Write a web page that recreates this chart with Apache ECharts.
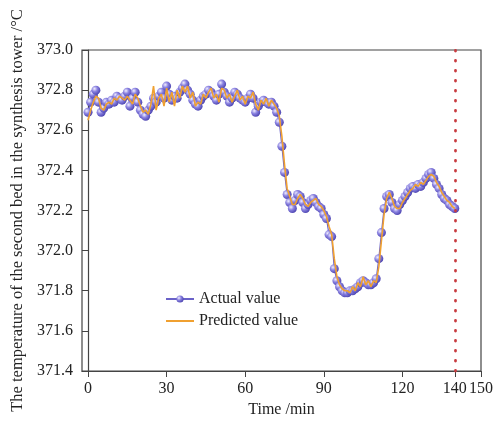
<!DOCTYPE html>
<html><head><meta charset="utf-8">
<script src="https://cdn.jsdelivr.net/npm/echarts@6/dist/echarts.min.js"></script>
<style>html,body{margin:0;padding:0;background:#fff}#c{width:497px;height:423px}</style>
</head><body><div id="c"></div>
<script>
var xTicks = [0, 30, 60, 90, 120, 140, 150];
var actual = [
372.69,372.74,372.78,372.80,372.74,372.69,372.71,372.74,372.73,372.75,
372.74,372.77,372.76,372.75,372.77,372.79,372.72,372.76,372.79,372.74,
372.70,372.68,372.67,372.70,372.72,372.76,372.74,372.77,372.79,372.76,
372.82,372.78,372.75,372.77,372.76,372.79,372.81,372.83,372.80,372.78,
372.75,372.73,372.72,372.75,372.77,372.78,372.80,372.79,372.77,372.75,
372.78,372.83,372.79,372.77,372.74,372.76,372.79,372.78,372.76,372.75,
372.74,372.76,372.78,372.76,372.69,372.72,372.74,372.75,372.74,372.73,
372.74,372.72,372.69,372.64,372.52,372.39,372.28,372.24,372.21,372.25,
372.28,372.27,372.24,372.21,372.23,372.25,372.26,372.24,372.22,372.21,
372.18,372.16,372.08,372.07,371.91,371.85,371.82,371.80,371.79,371.79,
371.80,371.80,371.81,371.82,371.84,371.85,371.84,371.83,371.83,371.84,
371.86,371.96,372.09,372.21,372.27,372.28,372.24,372.21,372.20,372.23,
372.25,372.27,372.29,372.31,372.32,372.31,372.33,372.32,372.34,372.36,
372.38,372.39,372.36,372.33,372.31,372.28,372.26,372.25,372.23,372.22,
372.21];
var predicted = [
372.65,372.70,372.74,372.77,372.76,372.71,372.70,372.73,372.74,372.73,
372.76,372.75,372.77,372.76,372.75,372.77,372.75,372.73,372.78,372.76,
372.72,372.69,372.70,372.68,372.73,372.82,372.70,372.76,372.78,372.72,
372.81,372.74,372.79,372.72,372.80,372.76,372.82,372.79,372.82,372.76,
372.79,372.72,372.74,372.73,372.78,372.76,372.79,372.81,372.76,372.78,
372.74,372.81,372.80,372.76,372.78,372.74,372.77,372.80,372.75,372.77,
372.73,372.77,372.76,372.79,372.73,372.70,372.75,372.73,372.76,372.72,
372.75,372.73,372.71,372.67,372.57,372.43,372.31,372.27,372.23,372.23,
372.26,372.28,372.26,372.23,372.22,372.24,372.25,372.26,372.23,372.22,
372.20,372.17,372.12,372.08,371.96,371.87,371.83,371.81,371.80,371.80,
371.79,371.82,371.80,371.84,371.82,371.87,371.83,371.85,371.82,371.85,
371.84,371.92,372.05,372.18,372.26,372.29,372.26,372.22,372.21,372.21,
372.24,372.26,372.28,372.30,372.31,372.33,372.32,372.34,372.33,372.35,
372.37,372.38,372.37,372.34,372.32,372.29,372.27,372.25,372.24,372.22,
372.21];
var splitT = 140;

function pairs(arr){ return arr.map(function(v,i){ return [i, v]; }); }

var font = 'Liberation Serif';
var fs = 16;
var chart = echarts.init(document.getElementById('c'), null, {renderer:'canvas'});
chart.setOption({
  animation: false,
  backgroundColor: '#fff',
  textStyle: {fontFamily: font},
  grid: {left: 82, right: 16, top: 50, bottom: 51, show: true, borderColor: '#444', borderWidth: 1.2},
  legend: {
    orient: 'vertical', left: 160, top: 286, itemGap: 6, itemWidth: 28, itemHeight: 9,
    textStyle: {fontFamily: font, fontSize: fs, color: '#222'},
    data: [{name: 'Actual value'}, {name: 'Predicted value', itemStyle: {opacity: 0}}]
  },
  xAxis: {
    type: 'value', min: -2.3, max: 150,
    name: 'Time /min', nameLocation: 'middle', nameGap: 31,
    nameTextStyle: {fontFamily: font, fontSize: fs, color: '#222'},
    axisLine: {show: true, onZero: false, lineStyle: {color: '#444', width: 1.2}},
    axisTick: {show: true, inside: false, length: 6, customValues: xTicks, lineStyle: {color: '#444'}},
    axisLabel: {customValues: xTicks, fontFamily: font, fontSize: fs, color: '#222', margin: 10},
    splitLine: {show: false}
  },
  yAxis: {
    type: 'value', min: 371.4, max: 373.0, interval: 0.2,
    name: 'The temperature of the second bed in the synthesis tower /\u00B0C',
    nameLocation: 'middle', nameGap: 48, nameRotate: 90,
    nameTextStyle: {fontFamily: font, fontSize: 16.5, color: '#222'},
    axisLine: {show: true, lineStyle: {color: '#444', width: 1.2}},
    axisTick: {show: true, length: 6, lineStyle: {color: '#444'}},
    axisLabel: {fontFamily: font, fontSize: fs, color: '#222', margin: 9,
      formatter: function(v){ return v.toFixed(1); }},
    splitLine: {show: false}
  },
  series: [
    {
      name: 'Actual value', type: 'line', data: pairs(actual),
      symbol: 'circle', symbolSize: 9, showSymbol: true,
      lineStyle: {color: '#6a62c8', width: 1.2},
      itemStyle: {
        color: new echarts.graphic.RadialGradient(0.35, 0.35, 0.7, [
          {offset: 0, color: '#f2efff'},
          {offset: 0.45, color: '#8a82e0'},
          {offset: 1, color: '#4b43b0'}
        ]),
        borderWidth: 0
      },
      markLine: {
        silent: true, symbol: ['none', 'none'], label: {show: false},
        lineStyle: {color: '#c83c40', type: [0.5, 9.5], width: 2.8, cap: 'round'},
        data: [{xAxis: splitT}]
      },
      z: 2
    },
    {
      name: 'Predicted value', type: 'line', data: pairs(predicted),
      symbol: 'none', showSymbol: false,
      lineStyle: {color: '#f0a030', width: 1.6},
      itemStyle: {color: '#f0a030'},
      z: 3
    }
  ]
});
</script></body></html>
